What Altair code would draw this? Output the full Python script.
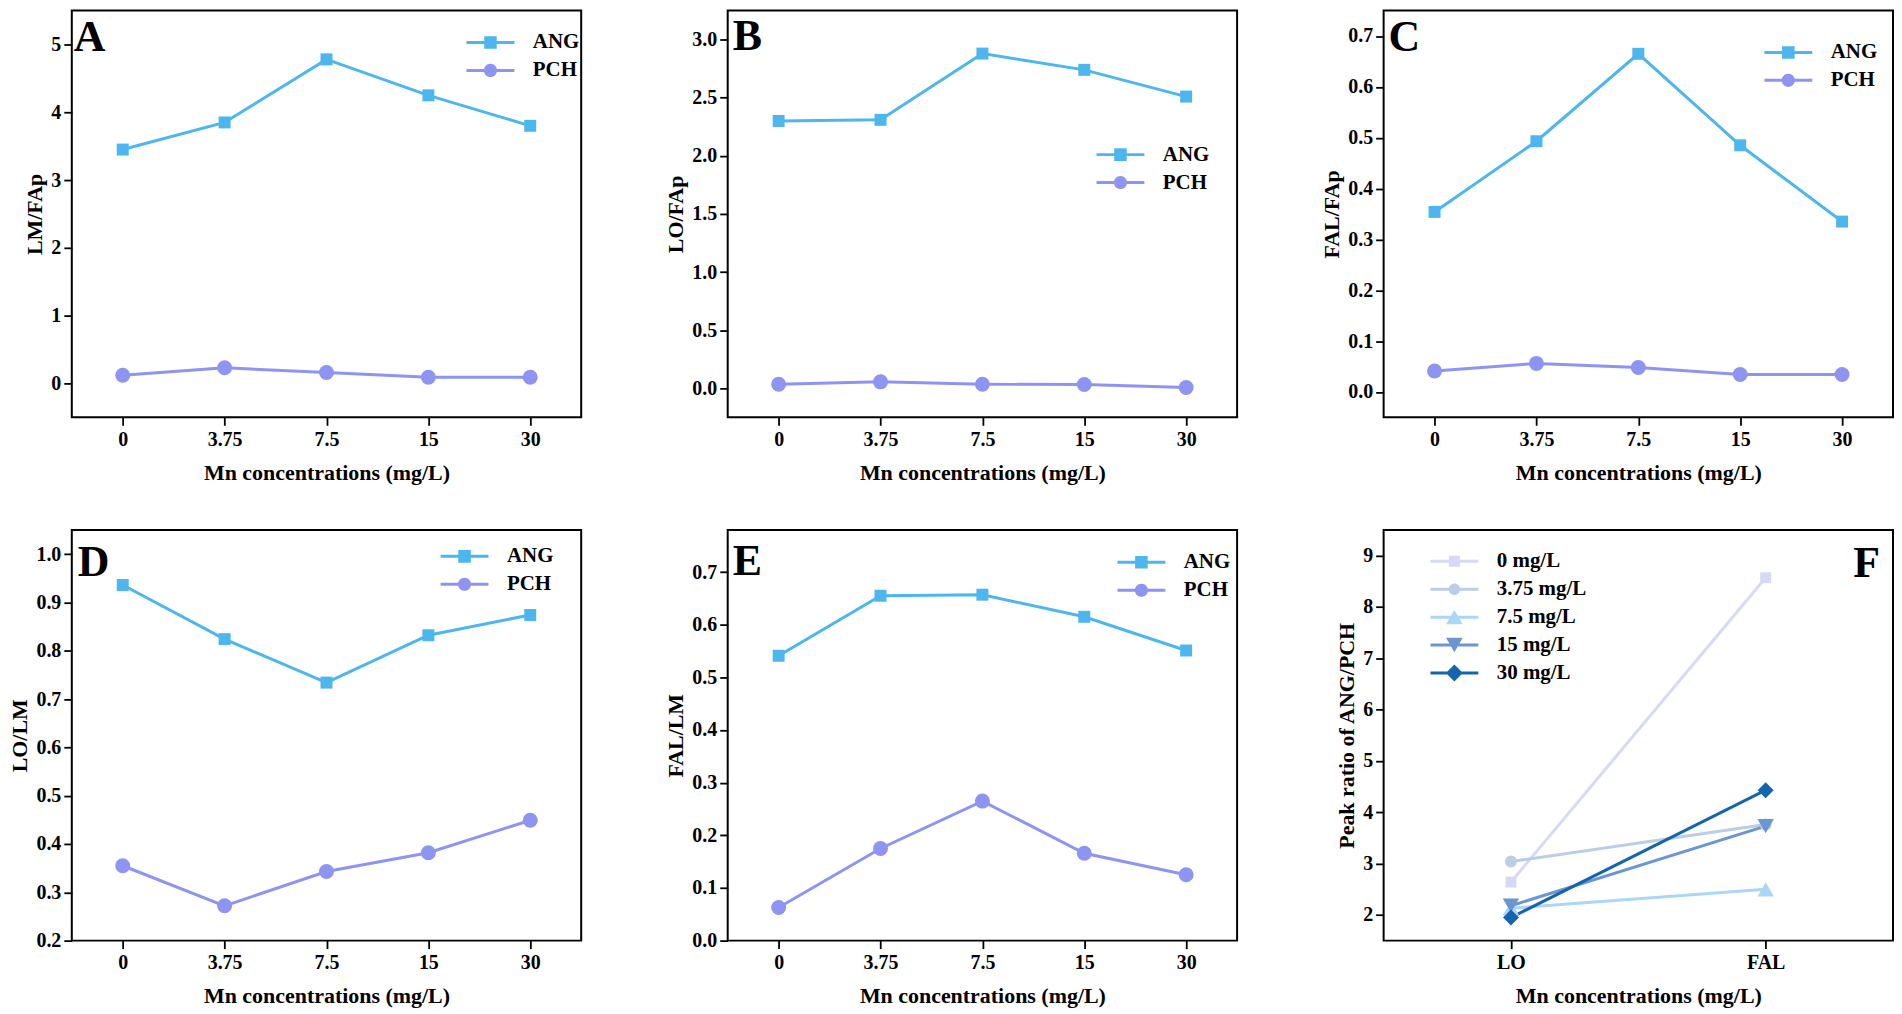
import altair as alt
import pandas as pd

# ---------------- data ----------------
conc = ["0", "3.75", "7.5", "15", "30"]
ab_series = ["ANG", "PCH"]

lm_fap_ang = [3.45, 3.85, 4.78, 4.25, 3.80]
lm_fap_pch = [0.12, 0.23, 0.16, 0.09, 0.09]

lo_fap_ang = [2.30, 2.31, 2.88, 2.74, 2.51]
lo_fap_pch = [0.035, 0.055, 0.034, 0.032, 0.007]

fal_fap_ang = [0.354, 0.493, 0.665, 0.485, 0.335]
fal_fap_pch = [0.041, 0.056, 0.048, 0.034, 0.034]

lo_lm_ang = [0.936, 0.824, 0.734, 0.832, 0.874]
lo_lm_pch = [0.355, 0.272, 0.343, 0.382, 0.449]

fal_lm_ang = [0.541, 0.655, 0.657, 0.615, 0.551]
fal_lm_pch = [0.063, 0.175, 0.265, 0.166, 0.125]

f_cats = ["LO", "FAL"]
f_series = ["0 mg/L", "3.75 mg/L", "7.5 mg/L", "15 mg/L", "30 mg/L"]
f_lo = [2.64, 3.04, 2.13, 2.18, 1.95]
f_fal = [8.57, 3.76, 2.50, 3.73, 4.43]

# ---------------- styles ----------------
FONT = "Times New Roman, Liberation Serif, serif"
ab_colors = ["#4DB6EF", "#8D94F1"]
ab_shapes = ["square", "circle"]
ab_sizes = [144, 225]

f_colors = ["#D7DAF6", "#BBCDE7", "#ABD6F6", "#6B96D1", "#1565AD"]
f_shapes = ["square", "circle", "triangle-up", "triangle-down", "diamond"]
f_sizes = [121, 144, 270, 270, 256]

LEG_SIZE = 144  # unit of custom legend paths = 6 px
LINE_PATH = "M-4,-0.25H4V0.25H-4Z"


def legend_path(shape, r):
    if shape == "square":
        m = f"M{-r},{-r}H{r}V{r}H{-r}Z"
    elif shape == "circle":
        m = f"M{r},0A{r},{r},0,1,1,{-r},0A{r},{r},0,1,1,{r},0Z"
    elif shape == "triangle-up":
        h = round(0.866 * r, 3)
        m = f"M0,{-h}L{r},{h}L{-r},{h}Z"
    elif shape == "triangle-down":
        h = round(0.866 * r, 3)
        m = f"M0,{h}L{-r},{-h}L{r},{-h}Z"
    else:
        m = f"M{-r},0L0,{-r}L{r},0L0,{r}Z"
    return LINE_PATH + " " + m


def long_df(cats, names, values):
    rows = []
    for name, vals in zip(names, values):
        for c, v in zip(cats, vals):
            rows.append({"conc": c, "series": name, "value": v})
    return pd.DataFrame(rows)


def panel(df, cats, names, colors, shapes, sizes, leg_r, ytitle, ydomain,
          yticks, yfmt, letter, align, lx, ly, legx, legy, height):
    x = alt.X("conc:N",
              scale=alt.Scale(type="point", padding=0.5, domain=cats),
              axis=alt.Axis(title="Mn concentrations (mg/L)", labelAngle=0,
                            labelFontSize=20, labelPadding=4, titlePadding=13,
                            ticks=True))
    y = alt.Y("value:Q",
              scale=alt.Scale(domain=ydomain, nice=False, zero=False),
              axis=alt.Axis(title=ytitle, values=yticks, format=yfmt,
                            labelFontSize=20, labelPadding=3, titlePadding=4,
                            labelFlush=False, labelOverlap=False))
    layers = []
    for name, col in zip(names, colors):
        layers.append(
            alt.Chart(df).transform_filter(alt.datum.series == name)
            .mark_line(color=col, strokeWidth=3)
            .encode(x=x, y=y)
        )
    for name, col, shp, sz in zip(names, colors, shapes, sizes):
        layers.append(
            alt.Chart(df).transform_filter(alt.datum.series == name)
            .mark_point(shape=shp, size=sz, filled=True, opacity=1,
                        color=col, strokeWidth=0)
            .encode(x=x, y=y)
        )
    leg = alt.Legend(title=None, orient="none", legendX=legx, legendY=legy,
                     symbolSize=LEG_SIZE, symbolStrokeWidth=0,
                     symbolOffset=13.5, labelOffset=32, labelFont=FONT,
                     labelFontSize=21, labelFontWeight="bold",
                     labelColor="black", rowPadding=6, padding=0,
                     symbolOpacity=1, labelLimit=400)
    paths = [legend_path(s, r) for s, r in zip(shapes, leg_r)]
    layers.append(
        alt.Chart(df).transform_filter("false")
        .mark_point(filled=True, opacity=1, strokeWidth=0)
        .encode(
            color=alt.Color("series:N",
                            scale=alt.Scale(domain=names, range=colors),
                            legend=leg),
            shape=alt.Shape("series:N",
                            scale=alt.Scale(domain=names, range=paths),
                            legend=leg),
        )
    )
    # panel letter
    layers.append(
        alt.Chart(pd.DataFrame({"letter": [letter]}))
        .mark_text(align=align, baseline="alphabetic", fontSize=44,
                   font=FONT, fontWeight="bold", color="black")
        .encode(text="letter:N", x=alt.value(lx), y=alt.value(ly))
    )
    return alt.layer(*layers).properties(width=511, height=height)


dfA = long_df(conc, ab_series, [lm_fap_ang, lm_fap_pch])
dfB = long_df(conc, ab_series, [lo_fap_ang, lo_fap_pch])
dfC = long_df(conc, ab_series, [fal_fap_ang, fal_fap_pch])
dfD = long_df(conc, ab_series, [lo_lm_ang, lo_lm_pch])
dfE = long_df(conc, ab_series, [fal_lm_ang, fal_lm_pch])
dfF = long_df(f_cats, f_series, [[a, b] for a, b in zip(f_lo, f_fal)])

ab_r = [1.05, 1.1]
f_r = [0.92, 0.97, 1.39, 1.39, 1.42]

H1 = 408
H2 = 412

pA = panel(dfA, conc, ab_series, ab_colors, ab_shapes, ab_sizes, ab_r,
           "LM/FAp", [-0.5, 5.5], [0, 1, 2, 3, 4, 5], "d",
           "A", "left", 2, 41, 396, 21.5, H1)
pB = panel(dfB, conc, ab_series, ab_colors, ab_shapes, ab_sizes, ab_r,
           "LO/FAp", [-0.25, 3.25], [0, 0.5, 1.0, 1.5, 2.0, 2.5, 3.0], ".1f",
           "B", "left", 5, 40, 370, 134, H1)
pC = panel(dfC, conc, ab_series, ab_colors, ab_shapes, ab_sizes, ab_r,
           "FAL/FAp", [-0.05, 0.75], [0, 0.1, 0.2, 0.3, 0.4, 0.5, 0.6, 0.7],
           ".1f", "C", "left", 5, 41, 382, 31.5, H1)
pD = panel(dfD, conc, ab_series, ab_colors, ab_shapes, ab_sizes, ab_r,
           "LO/LM", [0.2, 1.05], [0.2, 0.3, 0.4, 0.5, 0.6, 0.7, 0.8, 0.9, 1.0],
           ".1f", "D", "left", 6, 46, 370, 16, H2)
pE = panel(dfE, conc, ab_series, ab_colors, ab_shapes, ab_sizes, ab_r,
           "FAL/LM", [0.0, 0.78], [0, 0.1, 0.2, 0.3, 0.4, 0.5, 0.6, 0.7],
           ".1f", "E", "left", 5, 45, 391, 22, H2)
pF = panel(dfF, f_cats, f_series, f_colors, f_shapes, f_sizes, f_r,
           "Peak ratio of ANG/PCH", [1.5, 9.5], [2, 3, 4, 5, 6, 7, 8, 9], "d",
           "F", "right", 498, 47, 47, 21, H2)

chart = alt.ConcatChart(
    concat=[pA, pB, pC, pD, pE, pF],
    columns=3,
    spacing=alt.RowColnumber(row=113, column=147),
    bounds="flush",
    padding=0,
).resolve_scale(
    color="independent", shape="independent"
).configure_view(
    stroke="black", strokeWidth=2
).configure_axis(
    labelFont=FONT, labelFontSize=20, labelFontWeight="bold",
    labelColor="black", titleFont=FONT, titleFontSize=22,
    titleFontWeight="bold", titleColor="black", tickColor="black",
    tickSize=8, tickWidth=1.8, domain=False, grid=False,
)

chart.save("out.html", embed_options={"renderer": "svg", "actions": False})
